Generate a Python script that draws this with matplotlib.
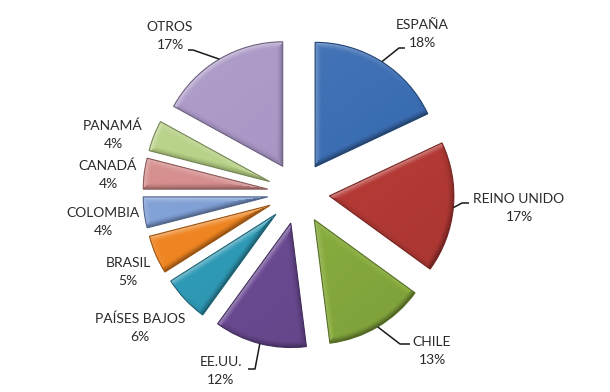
import numpy as np
import matplotlib
matplotlib.use("Agg")
import matplotlib.pyplot as plt
from matplotlib.colors import to_rgb
from matplotlib.patches import Wedge

# ---- data ----
countries = ["ESPAÑA", "REINO UNIDO", "CHILE", "EE.UU.", "PAÍSES BAJOS",
             "BRASIL", "COLOMBIA", "CANADÁ", "PANAMÁ", "OTROS"]
shares = [18, 17, 13, 12, 6, 5, 4, 4, 4, 17]

# ---- style ----
colors = ["#3B6DB3", "#B53A36", "#88AC3F", "#6A4A92", "#2F9AB6",
          "#EE8420", "#7F9FD5", "#D48C8B", "#B7D186", "#A996C5"]

W, H = 610, 392
fig = plt.figure(figsize=(W / 100, H / 100), dpi=100)
ax = fig.add_axes([0, 0, 1, 1])

cx, cy = 298.5, H - 193
R = 124.5
expl = 31  # matplotlib explode is in data units


def darker(c, f):
    r, g, b = to_rgb(c)
    return (r * f, g * f, b * f)


wedges, _ = ax.pie(shares, colors=colors, startangle=90, counterclock=False,
                   explode=[expl] * len(shares), center=(cx, cy), radius=R,
                   wedgeprops=dict(linewidth=0), frame=True)

ax.set_xlim(0, W)
ax.set_ylim(0, H)
ax.set_aspect("equal")
ax.axis("off")

# ---- bevel shading (light from the upper left), clipped to each wedge ----
gx, gy = np.meshgrid(np.arange(W) + 0.5, np.arange(H) + 0.5)
light = np.array([-0.6, 0.8])
bevel = 7.0
for w, c in zip(wedges, colors):
    x0, y0 = w.center
    dx, dy = gx - x0, gy - y0
    r = np.hypot(dx, dy)
    phi = np.degrees(np.arctan2(dy, dx))
    t1, t2 = w.theta1, w.theta2
    phi = (phi - t1) % 360 + t1
    a1 = np.radians(phi - t1)
    a2 = np.radians(t2 - phi)
    d_arc = w.r - r
    d1 = r * np.sin(np.clip(a1, 0, np.pi / 2))
    d2 = r * np.sin(np.clip(a2, 0, np.pi / 2))
    pr = np.radians(phi)
    n_arc = np.cos(pr) * light[0] + np.sin(pr) * light[1]
    n1a = np.radians(t1 - 90)
    n2a = np.radians(t2 + 90)
    n1 = np.cos(n1a) * light[0] + np.sin(n1a) * light[1]
    n2 = np.cos(n2a) * light[0] + np.sin(n2a) * light[1]
    shade = np.zeros_like(r)
    for d, n in ((d_arc, n_arc), (d1, n1), (d2, n2)):
        wgt = np.clip(1 - d / bevel, 0, 1) ** 1.5
        shade = np.where(np.abs(n * wgt) > np.abs(shade), n * wgt, shade)
    # soft overall gradient: slightly lighter towards the upper left
    body = 0.06 * ((dx * light[0] + dy * light[1]) / w.r)
    s = 0.45 * shade + body
    base = np.array(to_rgb(c))
    img = np.where(s[..., None] > 0,
                   base + (1 - base) * s[..., None],
                   base * (1 + s[..., None]))
    img = np.clip(img, 0, 1)
    im = ax.imshow(img, extent=(0, W, 0, H), origin="lower",
                   interpolation="bilinear", zorder=1.5)
    im.set_clip_path(w)
    ax.add_patch(Wedge(w.center, w.r, w.theta1, w.theta2, fill=False,
                       edgecolor=darker(c, 0.65), linewidth=0.8, zorder=2))

ax.set_xlim(0, W)
ax.set_ylim(0, H)

# label placement (pixel coords in image space, y downward): name line / pct line
label_pos = [(422, 25), (519, 199), (432, 342), (221, 362), (140, 319),
             (128, 263), (103, 213), (108, 166), (113, 126), (170, 27)]
line_gap = 18
font = dict(family=["Lato", "DejaVu Sans"], fontsize=10, color="#2a2a2a")

for name, v, (lx, ly) in zip(countries, shares, label_pos):
    ax.text(lx, H - ly, name, ha="center", va="center", **font)
    ax.text(lx, H - ly - line_gap, f"{v}%", ha="center", va="center", **font)

# leader lines: label-side end, knee, then the wedge's mid-arc point
leaders = {
    0: [(405, 48), (399, 48)],
    1: [(469, 203), (462, 203)],
    2: [(410, 344), (400, 344)],
    3: [(248, 369), (255, 369)],
    9: [(188, 50), (193, 50)],
}
for i, pts in leaders.items():
    w = wedges[i]
    th = np.deg2rad(0.5 * (w.theta1 + w.theta2))
    ex = w.center[0] + w.r * np.cos(th)
    ey = w.center[1] + w.r * np.sin(th)
    xs = [p[0] for p in pts] + [ex]
    ys = [H - p[1] for p in pts] + [ey]
    ax.plot(xs, ys, color="#1a1a1a", linewidth=1.1, solid_capstyle="butt",
            zorder=3)

fig.savefig("out.png", dpi=100, facecolor="white")
